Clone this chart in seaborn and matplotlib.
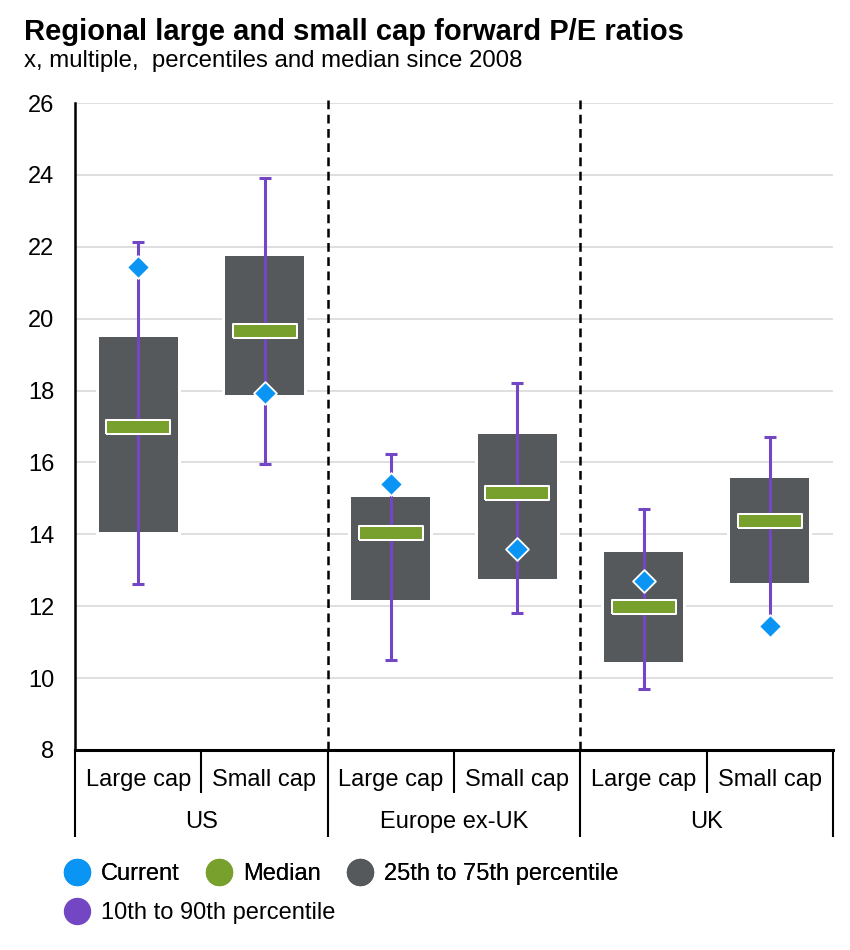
import numpy as np
import pandas as pd

import matplotlib

matplotlib.use('Agg')
import matplotlib.pyplot as plt
from matplotlib.lines import Line2D
import seaborn as sns

# ==========================================
# 数据
# ==========================================
regions = ["US", "Europe ex-UK", "UK"]
caps = ["Large cap", "Small cap"]
p10 = [12.62, 15.96, 10.50, 11.81, 9.70, 11.55]
p25 = [14.07, 17.88, 12.17, 12.76, 10.45, 12.65]
median = [17.00, 19.66, 14.04, 15.15, 11.98, 14.37]
p75 = [19.49, 21.75, 15.04, 16.79, 13.51, 15.57]
p90 = [22.13, 23.90, 16.24, 18.21, 14.71, 16.71]
current = [21.44, 17.93, 15.40, 13.59, 12.70, 11.45]

names = [f"{r} {c}" for r in regions for c in caps]
df = pd.DataFrame({
    'name': names,
    'pos': np.arange(len(names)),
    'p10': p10, 'p25': p25, 'median': median,
    'p75': p75, 'p90': p90, 'current': current,
})
df['iqr'] = df['p75'] - df['p25']

# 颜色
c_current = "#0A95F5"
c_median = "#78A02D"
c_box = "#56595C"
c_range = "#7346C4"

sns.set_style("white")
plt.rcParams['font.family'] = ['Liberation Sans', 'DejaVu Sans']
plt.rcParams['text.color'] = 'black'
plt.rcParams['ytick.color'] = 'black'
plt.rcParams['ytick.labelcolor'] = 'black'
FS = 17

fig = plt.figure(figsize=(8.5, 9.5), dpi=100)
ax = fig.add_axes([75 / 850, 200 / 950, 758 / 850, 647 / 950])

# 网格线
for v in range(10, 27, 2):
    ax.axhline(v, color="#D6D6D6", lw=1.1, zorder=0)

# 25th-75th 箱体: 先画白色外框, 再画灰色箱体
box_w = 0.625
sns.barplot(data=df, x='name', y='iqr', bottom=df['p25'], width=box_w,
            color='white', saturation=1, errorbar=None, edgecolor='white',
            linewidth=4.3, zorder=1, ax=ax)
sns.barplot(data=df, x='name', y='iqr', bottom=df['p25'], width=box_w,
            color=c_box, saturation=1, errorbar=None, linewidth=0,
            zorder=1.5, ax=ax)

# 10th-90th 须线
ax.errorbar(df['pos'], df['median'],
            yerr=[df['median'] - df['p10'], df['p90'] - df['median']],
            fmt='none', ecolor=c_range, elinewidth=2.2, capsize=4.3,
            capthick=2.2, zorder=2)

# 中位数 (扁长方形标记)
rect = [(-4.8, -1), (4.8, -1), (4.8, 1), (-4.8, 1), (-4.8, -1)]
sns.scatterplot(data=df, x='pos', y='median', marker=rect, s=2060,
                color=c_median, edgecolor='white', linewidth=1.45,
                zorder=3, ax=ax, legend=False)

# 当前值 (菱形)
sns.scatterplot(data=df, x='pos', y='current', marker='D', s=135,
                color=c_current, edgecolor='white', linewidth=1.3,
                zorder=4, ax=ax, legend=False)

# 坐标轴
ax.set_xlim(-0.5, len(names) - 0.5)
ax.set_ylim(8, 26)
ax.set_yticks(range(8, 27, 2))
ax.tick_params(axis='y', length=0, pad=15, labelsize=FS, labelcolor='black')
ax.set_xticks([])
ax.set_xlabel("")
ax.set_ylabel("")
ax.grid(False)
for s in ['top', 'right']:
    ax.spines[s].set_visible(False)
ax.spines['left'].set_color('black')
ax.spines['left'].set_linewidth(1.8)
ax.spines['bottom'].set_color('black')
ax.spines['bottom'].set_linewidth(2.2)
ax.spines['bottom'].set_zorder(5)

# 区域之间的虚线
ax.vlines([1.5, 3.5], 8, 26.15, colors='black', linestyles=(0, (3.5, 2.2)),
          lw=1.8, clip_on=False, zorder=0.5)

# 两级类别标签
trans = ax.get_xaxis_transform()
for i, nm in enumerate(names):
    ax.text(i, -0.0464, caps[i % 2], transform=trans, ha='center',
            va='center', fontsize=FS, color='black')
for g, r in enumerate(regions):
    ax.text(2 * g + 0.5, -0.111, r, transform=trans, ha='center',
            va='center', fontsize=FS, color='black')
for x in [-0.5, 1.5, 3.5, 5.5]:
    ax.plot([x, x], [0, -0.1345], transform=trans, color='black', lw=1.5,
            clip_on=False, solid_capstyle='butt')
for x in [0.5, 2.5, 4.5]:
    ax.plot([x, x], [0, -0.0665], transform=trans, color='black', lw=1.5,
            clip_on=False, solid_capstyle='butt')

# 标题
fig.text(24 / 850, 1 - 40 / 950, "Regional large and small cap forward P/E ratios",
         fontsize=21, fontweight='bold', va='baseline', ha='left', color='black')
fig.text(24 / 850, 1 - 67 / 950, "x, multiple,  percentiles and median since 2008",
         fontsize=17.3, va='baseline', ha='left', color='black')

# 图例
def handle(c):
    return Line2D([], [], marker='o', ls='', ms=18.7, color=c, mec=c)

leg_kw = dict(frameon=False, fontsize=FS, handlelength=1.1, handletextpad=0.47,
              borderpad=0, borderaxespad=0, columnspacing=1.1)
leg1 = fig.legend([handle(c_current), handle(c_median), handle(c_box)],
                  ["Current", "Median", "25th to 75th percentile"],
                  loc='center left', bbox_to_anchor=(64 / 850, 1 - 874 / 950),
                  ncol=3, **leg_kw)
fig.legend([handle(c_range)], ["10th to 90th percentile"],
           loc='center left', bbox_to_anchor=(64 / 850, 1 - 913 / 950), **leg_kw)
fig.add_artist(leg1)
for lg in fig.legends:
    for t in lg.get_texts():
        t.set_color('black')

fig.savefig("out.png", dpi=100)
plt.close(fig)
